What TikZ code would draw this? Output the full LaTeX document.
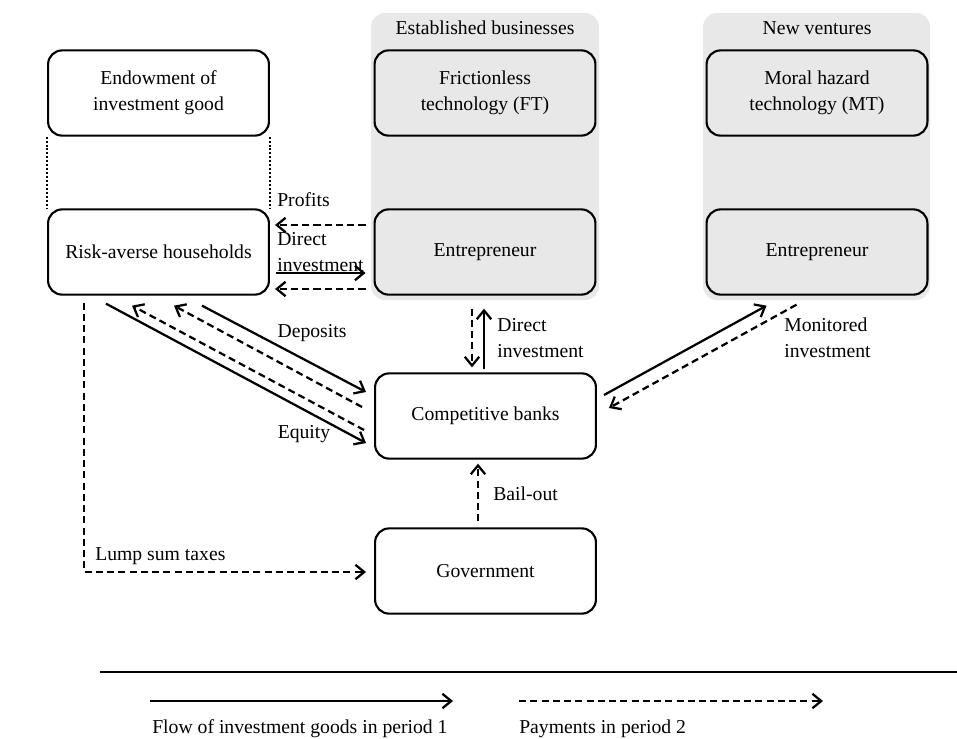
\documentclass[tikz,border=0pt]{standalone}
\usepackage{fontspec}
\setmainfont{Liberation Serif}
\usetikzlibrary{arrows.meta,calc}
\colorlet{panelgray}{black!9}
\tikzset{>={Straight Barb[length=2.2mm,width=3.6mm]}}
\tikzset{
  agent/.style = {draw, line width=1.5pt, rounded corners=3.5mm,
    minimum width=5.52cm, minimum height=2.13cm, align=center, inner sep=0pt},
  firm/.style = {agent, fill=panelgray},
  sector/.style = {fill=panelgray, rounded corners=3.5mm},
  flow/.style = {->, line width=1.6pt},
  payment/.style = {->, line width=1.6pt, dash pattern=on 5pt off 3pt},
  link/.style = {line width=1.5pt, dash pattern=on 1.4pt off 1.4pt},
  tag/.style = {align=left, inner sep=0pt}
}

\begin{document}
\begin{tikzpicture}[x=0.025cm,y=-0.025cm,font=\fontsize{14}{18.5}\selectfont]
  \useasboundingbox (0,0) rectangle (957,738);
  \fill[sector] (371,13) rectangle (599,300);
  \fill[sector] (703,13) rectangle (930,300);
  \node (estab) at (485,28) {Established businesses};
  \node (newv) at (817,28) {New ventures};

  \node[agent] (endow) at (158.5,93) {Endowment of\\investment good};
  \node[firm] (ft) at (485,93) {Frictionless\\technology (FT)};
  \node[firm] (mt) at (817,93) {Moral hazard\\technology (MT)};
  \node[agent] (house) at (158.5,252) {Risk-averse households};
  \node[firm] (entA) at (485,252) {Entrepreneur};
  \node[firm] (entB) at (817,252) {Entrepreneur};
  \node[agent] (bank) at (485.5,416) {Competitive banks};
  \node[agent] (gov) at (485.5,571) {Government};

  \draw[link] (endow.south west) -- (house.north west);
  \draw[link] (endow.south east) -- (house.north east);

  \draw[payment] ($(entA.west)+(-8,-27)$) -- ($(house.east)+(5,-27)$);
  \draw[flow] ($(house.east)+(6,21)$) -- ($(entA.west)+(-8,21)$);
  \draw[payment] ($(entA.west)+(-8,37)$) -- ($(house.east)+(5,37)$);
  \node[tag, anchor=west] (profits) at (277,200) {Profits};
  \node[tag, anchor=west] (directA) at (277,252) {Direct\\investment};

  \draw[flow] ($(house.south west)+(59,8)$) -- ($(bank.west)+(-8,27)$);
  \draw[payment] ($(bank.west)+(-10,14)$) -- ($(house.south west)+(85,10)$);
  \draw[payment] ($(bank.west)+(-12,-9)$) -- ($(house.south west)+(127,10)$);
  \draw[flow] ($(house.south west)+(155,10)$) -- ($(bank.west)+(-8,-24)$);
  \node (deposits) at (312,333) {Deposits};
  \node (equity) at (304,434) {Equity};

  \draw[payment] ($(entA.south)+(-13,13)$) -- ($(bank.north)+(-13.5,-5)$);
  \draw[flow] ($(bank.north)+(-1.5,-3)$) -- ($(entA.south)+(-1,13)$);
  \node[tag, anchor=west] (directB) at (497,338) {Direct\\investment};

  \draw[flow] ($(bank.east)+(7,-21)$) -- ($(entB.south west)+(61,10)$);
  \draw[payment] ($(entB.south west)+(91,9)$) -- ($(bank.east)+(12,-8)$);
  \node[tag, anchor=west] (monitored) at (784,338) {Monitored\\investment};

  \draw[payment] ($(gov.north)+(-7.5,-6)$) -- ($(bank.south)+(-7.5,4)$);
  \node[tag, anchor=west] (bailout) at (493,494) {Bail-out};

  \draw[payment] ($(house.south west)+(37,7)$) |- ($(gov.west)+(-8,1)$);
  \node[tag, anchor=west] (lump) at (95,556) {Lump sum taxes};

  \coordinate (ruleL) at (100,672);
  \coordinate (ruleR) at (957,672);
  \draw[line width=1.5pt] (ruleL) -- (ruleR);
  \coordinate (flowL) at (150,701);
  \coordinate (flowR) at (453,701);
  \coordinate (payL) at (519,701);
  \coordinate (payR) at (823,701);
  \draw[flow] (flowL) -- (flowR);
  \draw[payment] (payL) -- (payR);
  \node[tag, anchor=west] (flowtxt) at (152,729) {Flow of investment goods in period 1};
  \node[tag, anchor=west] (paytxt) at (519,729) {Payments in period 2};
\end{tikzpicture}
\end{document}
